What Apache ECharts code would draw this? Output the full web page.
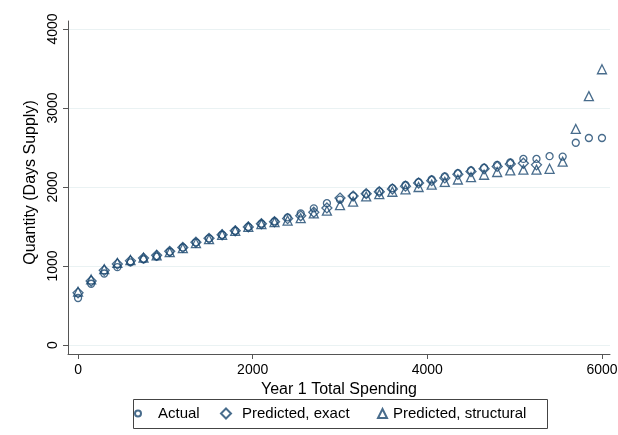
<!DOCTYPE html>
<html>
<head>
<meta charset="utf-8">
<script src="https://cdn.jsdelivr.net/npm/echarts@6/dist/echarts.min.js"></script>
<style>
  html, body { margin: 0; padding: 0; background: #fff; }
  #chart { width: 618px; height: 435px; }
</style>
</head>
<body>
<div id="chart"></div>
<script>
// year 1 total spending (x)
const spending = [0, 150, 300, 450, 600, 750, 900, 1050, 1200, 1350, 1500, 1650, 1800, 1950, 2100,
  2250, 2400, 2550, 2700, 2850, 3000, 3150, 3300, 3450, 3600, 3750, 3900, 4050, 4200, 4350,
  4500, 4650, 4800, 4950, 5100, 5250, 5400, 5550, 5700, 5850, 6000];
// quantity (days supply)
const actual = [595, 775, 905, 985, 1045, 1085, 1120, 1180, 1235, 1300, 1350, 1395, 1445, 1495, 1535,
  1565, 1615, 1665, 1730, 1795, 1840, 1885, 1915, 1945, 1985, 2025, 2060, 2095, 2135, 2175,
  2210, 2245, 2280, 2310, 2355, 2355, 2390, 2385, 2560, 2620, 2620];
const predExact = [660, 810, 945, 1025, 1065, 1100, 1135, 1185, 1235, 1300, 1350, 1395, 1445, 1495, 1535,
  1560, 1600, 1635, 1680, 1735, 1860, 1885, 1915, 1940, 1975, 2010, 2050, 2080, 2115, 2160,
  2195, 2230, 2260, 2290, 2300, 2280, null, null, null, null, null];
const predStruct = [675, 830, 960, 1040, 1075, 1105, 1135, 1175, 1225, 1290, 1340, 1395, 1445, 1495, 1530,
  1555, 1575, 1605, 1665, 1700, 1770, 1815, 1880, 1910, 1940, 1970, 2000, 2030, 2065, 2095,
  2125, 2155, 2190, 2210, 2220, 2220, 2230, 2320, 2735, 3150, 3490];
const xTicks = [0, 2000, 4000, 6000];
const yTicks = [0, 1000, 2000, 3000, 4000];
const seriesNames = ['Actual', 'Predicted, exact', 'Predicted, structural'];

const navy = '#1a476f';
const font = 'Liberation Sans';

function pairs(ys) {
  const out = [];
  for (let i = 0; i < spending.length; i++) {
    if (ys[i] != null) out.push([spending[i], ys[i]]);
  }
  return out;
}

function hollow(name, symbol, size, ys) {
  return {
    name: name,
    type: 'scatter',
    symbol: symbol,
    symbolSize: size,
    clip: false,
    itemStyle: { color: 'rgba(255,255,255,0)', borderColor: navy, borderWidth: 1.3 },
    emphasis: { disabled: true },
    data: pairs(ys)
  };
}

// one legend per key, so each key sits where the original has it
function legendKey(name, icon, left, size, padLeft) {
  return {
    left: left,
    top: 406,
    padding: 0,
    itemWidth: size,
    itemHeight: size,
    selectedMode: false,
    textStyle: { fontFamily: font, fontSize: 15, color: '#000', padding: [0, 0, 0, padLeft] },
    data: [{ name: name, icon: icon }]
  };
}

const chart = echarts.init(document.getElementById('chart'), null, { renderer: 'canvas' });
chart.setOption({
  backgroundColor: '#fff',
  animation: false,
  textStyle: { fontFamily: font },
  grid: { left: 68, right: 8, top: 21, bottom: 81, containLabel: false, outerBoundsMode: 'none' },
  xAxis: {
    type: 'value',
    min: -115,
    max: 6092,
    name: 'Year 1 Total Spending',
    nameLocation: 'middle',
    nameGap: 24,
    nameTextStyle: { fontFamily: font, fontSize: 16, color: '#000' },
    axisLine: { onZero: false, lineStyle: { color: '#555', width: 1 } },
    axisTick: { show: true, inside: false, length: 5, customValues: xTicks, lineStyle: { color: '#555' } },
    axisLabel: { customValues: xTicks, margin: 9, fontSize: 14, color: '#000', fontFamily: font,
      formatter: v => String(v) },
    splitLine: { show: false }
  },
  yAxis: {
    type: 'value',
    min: -114,
    max: 4101,
    name: 'Quantity (Days Supply)',
    nameLocation: 'middle',
    nameRotate: 90,
    nameGap: 27,
    nameTextStyle: { fontFamily: font, fontSize: 16, color: '#000', padding: [0, 0, 0, 10] },
    axisLine: { show: true, onZero: false, lineStyle: { color: '#555', width: 1 } },
    axisTick: { show: true, inside: false, length: 5, customValues: yTicks, lineStyle: { color: '#555' } },
    axisLabel: { customValues: yTicks, rotate: 90, margin: 8, fontSize: 14, color: '#000', fontFamily: font,
      formatter: v => String(v) },
    splitLine: { show: true, lineStyle: { color: '#eaf2f3', width: 1 } }
  },
  legend: [
    legendKey(seriesNames[0], 'circle', 134, 6, 12),
    legendKey(seriesNames[1], 'diamond', 220, 10, 6),
    legendKey(seriesNames[2], 'triangle', 377, 9, 1)
  ],
  // frame round the legend keys
  graphic: [{
    type: 'rect',
    shape: { x: 133.5, y: 399.5, width: 414, height: 29 },
    style: { fill: 'none', stroke: '#444', lineWidth: 1 },
    silent: true
  }],
  series: [
    hollow(seriesNames[0], 'circle', 7, actual),
    hollow(seriesNames[1], 'diamond', 10, predExact),
    hollow(seriesNames[2], 'triangle', 9, predStruct)
  ]
});
</script>
</body>
</html>
